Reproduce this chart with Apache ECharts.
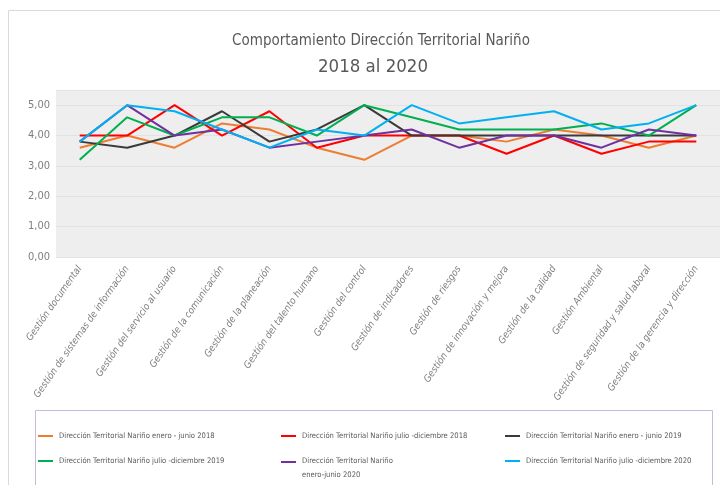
<!DOCTYPE html>
<html>
<head>
<meta charset="utf-8">
<script src="https://cdn.jsdelivr.net/npm/echarts@6/dist/echarts.min.js"></script>
<style>
  html, body { margin: 0; padding: 0; background: #fff; }
  #main { width: 720px; height: 485px; }
</style>
</head>
<body>
<div id="main"></div>
<script>
// categorias del eje x
var categorias = [
  'Gestión documental',
  'Gestión de sistemas de información',
  'Gestión del servicio al usuario',
  'Gestión de la comunicación',
  'Gestión de la planeación',
  'Gestión del talento humano',
  'Gestión del control',
  'Gestión de indicadores',
  'Gestión de riesgos',
  'Gestión de innovación y mejora',
  'Gestión de la calidad',
  'Gestión Ambiental',
  'Gestión de seguridad y salud laboral',
  'Gestión de la gerencia y dirección'
];

var nombres = [
  'Dirección Territorial Nariño enero - junio 2018',
  'Dirección Territorial Nariño julio -diciembre 2018',
  'Dirección Territorial Nariño enero - junio 2019',
  'Dirección Territorial Nariño julio -diciembre 2019',
  'Dirección Territorial Nariño\nenero-junio 2020',
  'Dirección Territorial Nariño julio -diciembre 2020'
];

var ene2018 = [3.6, 4.0, 3.6, 4.4, 4.2, 3.6, 3.2, 4.0, 4.0, 3.8, 4.2, 4.0, 3.6, 4.0];
var jul2018 = [4.0, 4.0, 5.0, 4.0, 4.8, 3.6, 4.0, 4.0, 4.0, 3.4, 4.0, 3.4, 3.8, 3.8];
var ene2019 = [3.8, 3.6, 4.0, 4.8, 3.8, 4.2, 5.0, 4.0, 4.0, 4.0, 4.0, 4.0, 4.0, 4.0];
var jul2019 = [3.2, 4.6, 4.0, 4.6, 4.6, 4.0, 5.0, 4.6, 4.2, 4.2, 4.2, 4.4, 4.0, 5.0];
var ene2020 = [3.8, 5.0, 4.0, 4.2, 3.6, 3.8, 4.0, 4.2, 3.6, 4.0, 4.0, 3.6, 4.2, 4.0];
var jul2020 = [3.8, 5.0, 4.8, 4.2, 3.6, 4.2, 4.0, 5.0, 4.4, 4.6, 4.8, 4.2, 4.4, 5.0];

var yTicks = ['0,00', '1,00', '2,00', '3,00', '4,00', '5,00'];

var valores = [ene2018, jul2018, ene2019, jul2019, ene2020, jul2020];
var colores = ['#ED7D31', '#FF0000', '#3A3A3A', '#00B050', '#7030A0', '#00B0F0'];
var fuente = '"Liberation Sans Narrow", "DejaVu Sans Condensed", sans-serif';

// posiciones de cada leyenda (3 columnas x 2 filas)
var posLeyenda = [[38, 429], [281, 429], [505, 429], [38, 454], [281, 454], [505, 454]];

var chart = echarts.init(document.getElementById('main'));

var series = valores.map(function (v, i) {
  return {
    name: nombres[i],
    type: 'line',
    data: v,
    symbol: 'none',
    lineStyle: { width: 2, color: colores[i] },
    itemStyle: { color: colores[i] }
  };
});

var leyendas = nombres.map(function (n, i) {
  var doble = n.indexOf('\n') >= 0;
  return {
    data: [n],
    left: posLeyenda[i][0],
    top: posLeyenda[i][1],
    padding: 0,
    itemWidth: 15,
    itemHeight: doble ? 14 : 2,
    itemGap: 0,
    // en la leyenda de dos lineas la raya queda alineada a la primera linea
    icon: doble ? 'path://M0,0h15v2h-15z M0,14h0.01v0.01h-0.01z' : 'rect',
    textStyle: { fontFamily: fuente, fontSize: 7.6, color: '#595959', lineHeight: 14, padding: [0, 0, 0, 1] }
  };
});

chart.setOption({
  animation: false,
  backgroundColor: '#fff',
  title: [
    {
      text: 'Comportamiento Dirección Territorial Nariño',
      left: 376, top: 29, textAlign: 'center',
      textStyle: { fontFamily: fuente, fontWeight: 'normal', fontSize: 15, color: '#595959' }
    },
    {
      text: '2018 al 2020',
      left: 368, top: 53, textAlign: 'center',
      textStyle: { fontFamily: fuente, fontWeight: 'normal', fontSize: 18.5, color: '#595959' }
    }
  ],
  legend: leyendas,
  grid: {
    left: 56, top: 90, width: 666, bottom: 228,
    show: true, backgroundColor: '#eeeeee', borderWidth: 0
  },
  xAxis: {
    type: 'category',
    data: categorias,
    boundaryGap: true,
    axisLine: { show: false },
    axisTick: { show: false },
    axisLabel: {
      rotate: 55, interval: 0, margin: 10,
      fontFamily: fuente, fontStyle: 'italic', fontSize: 9.8, color: '#7f7f7f'
    }
  },
  yAxis: {
    type: 'value',
    min: 0, max: 5.5, interval: 1,
    axisLine: { show: false },
    axisTick: { show: false },
    axisLabel: {
      showMaxLabel: false, margin: 6,
      fontFamily: fuente, fontSize: 11, color: '#7f7f7f',
      formatter: function (v) { return yTicks[Math.round(v)] || ''; }
    },
    splitLine: { lineStyle: { color: '#e2e2e2', width: 1 } }
  },
  graphic: [
    {
      type: 'rect', silent: true,
      shape: { x: 8.5, y: 10.5, width: 720, height: 480 },
      style: { fill: 'none', stroke: '#d9d9d9', lineWidth: 1 }
    },
    {
      type: 'rect', silent: true,
      shape: { x: 35.5, y: 410.5, width: 677, height: 80 },
      style: { fill: 'none', stroke: '#c9b9df', lineWidth: 1 }
    }
  ],
  series: series
});
</script>
</body>
</html>
